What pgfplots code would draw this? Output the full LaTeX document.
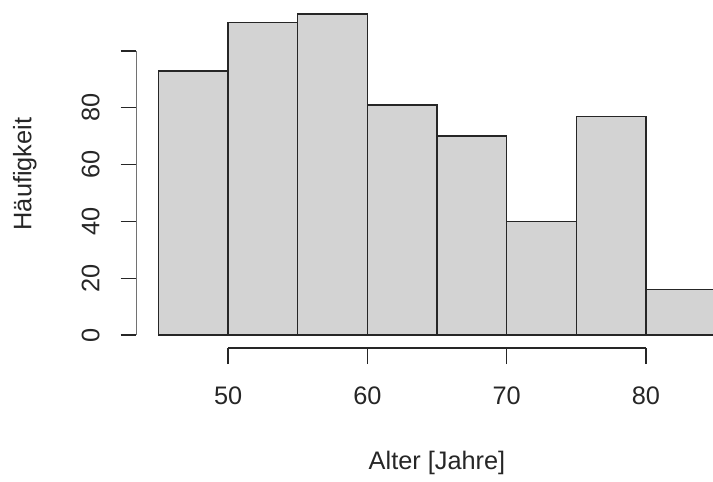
\documentclass[border=0pt]{standalone}
\usepackage{pgfplots}
\pgfplotsset{compat=1.18}
\usepackage{fontspec}
\setmainfont{Liberation Sans}
\definecolor{barfill}{HTML}{D3D3D3}
\begin{document}
\begin{tikzpicture}
\begin{axis}[
  scale only axis,
  width=289pt, height=174.5pt,
  xmin=43.42, xmax=84.82,
  ymin=-4.56, ymax=117.9,
  axis lines*=left,
  axis line style={draw=none},
  tick align=outside,
  major tick length=8pt,
  tick style={black!85, line width=0.7pt},
  xtick={50,60,70,80},
  ytick={0,20,40,60,80,100},
  yticklabels={0,20,40,60,80,},
  /pgf/number format/assume math mode=true,
  tick label style={font=\fontsize{12.7}{15}\selectfont, text=black!85},
  yticklabel style={rotate=90, anchor=south},
  xticklabel style={anchor=north},
  xticklabel shift=8pt,
  yticklabel shift=7pt,
  xlabel={Alter [Jahre]},
  ylabel={Häufigkeit},
  label style={font=\fontsize{12.7}{15}\selectfont, text=black!85},
  xlabel style={at={(axis description cs:0.5213,0)}, anchor=center, yshift=-57.5pt},
  ylabel style={at={(axis description cs:0,0.5)}, anchor=center, yshift=56pt, inner sep=6.5pt},
  clip=true,
]
\addplot[ybar interval, fill=barfill, draw=black!85, line width=0.75pt]
  coordinates {(45,93) (50,110) (55,113) (60,81) (65,70) (70,40) (75,77) (80,16) (85,16)};
\draw[black!85, line width=0.7pt] (axis cs:50,-4.56) -- (axis cs:80,-4.56);
\draw[black!85, line width=0.7pt] (axis cs:43.42,0) -- (axis cs:43.42,100);
\end{axis}
\end{tikzpicture}
\end{document}
